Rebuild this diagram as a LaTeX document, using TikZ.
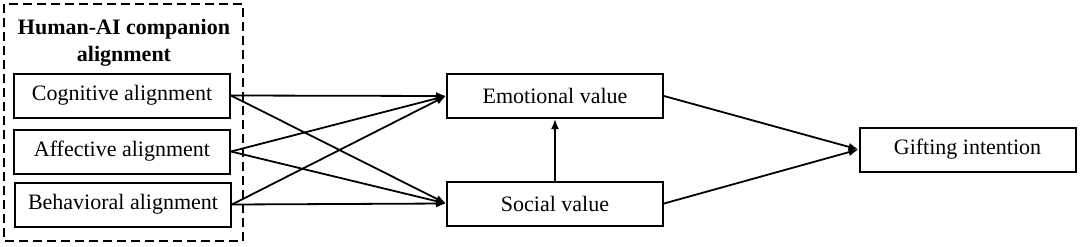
\documentclass[tikz,border=0pt]{standalone}
\usepackage{fontspec}
\setmainfont{Liberation Serif}
\usetikzlibrary{arrows.meta}

\begin{document}
\begin{tikzpicture}[
  x=0.5pt, y=-0.5pt,
  construct/.style={draw, line width=1pt, minimum width=108pt, minimum height=22pt, inner sep=0pt, font=\fontsize{11}{13}\selectfont},
  link/.style={line width=0.9pt, -{Latex[length=5pt, width=4pt]}}
]
\useasboundingbox (0,0) rectangle (1080,246);
% alignment block
\node[font=\fontsize{11}{13.5}\selectfont\bfseries, align=center] (title) at (124,43) {Human-AI companion\\alignment};
\node[construct] (cog) at (122,95.5) {Cognitive alignment};
\node[construct] (aff) at (122,151.5) {Affective alignment};
\node[construct] (beh) at (123,204.5) {Behavioral alignment};
\draw[dashed, dash pattern=on 4.5pt off 2.5pt, line width=0.9pt] (4,4) rectangle (243,241);
% values and outcome
\node[construct] (emo) at (555,96) {Emotional value};
\node[construct] (soc) at (555,203.5) {Social value};
\node[construct] (gift) at (967.5,149.5) {Gifting intention};
% paths
\foreach \src in {cog,aff,beh}{
  \draw[link] (\src.east) -- (emo.west);
  \draw[link] (\src.east) -- (soc.west);
}
\draw[link] (soc) -- (emo);
\draw[link] (emo.east) -- (gift.west);
\draw[link] (soc.east) -- (gift.west);
\end{tikzpicture}
\end{document}
